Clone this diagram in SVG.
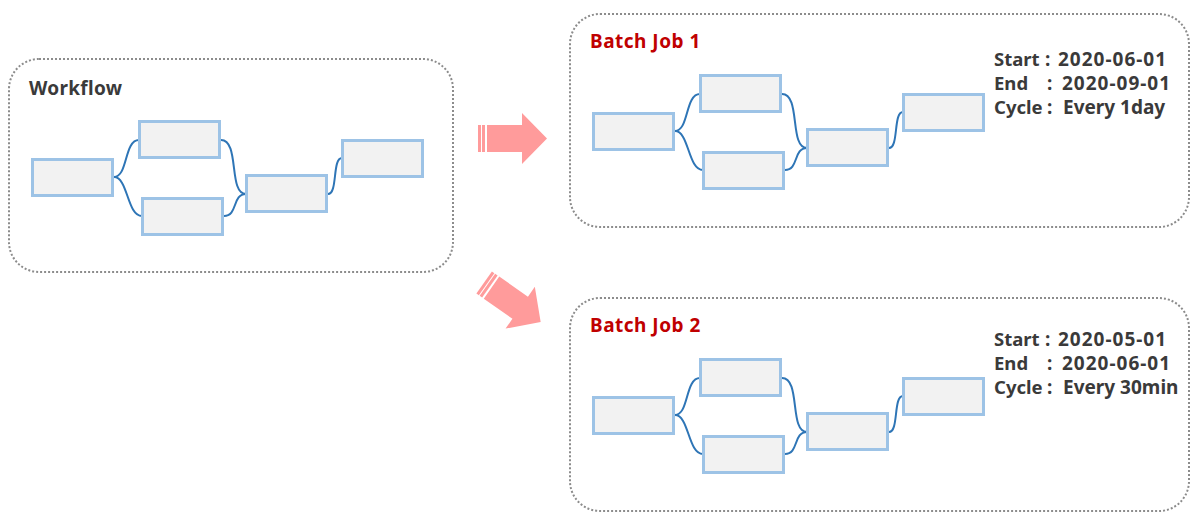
<svg xmlns="http://www.w3.org/2000/svg" width="1197" height="528" viewBox="0 0 1197 528">
<style>
.panel{fill:#ffffff;stroke:#8c8c8c;stroke-width:2;stroke-dasharray:2 2}
.box{fill:#f2f2f2;stroke:#9dc3e6;stroke-width:3}
.conn{fill:none;stroke:#2e75b6;stroke-width:2}
.title{font-family:"Noto Sans","Liberation Sans",sans-serif;font-weight:bold;font-size:19px;fill:#3a3a3a;letter-spacing:0.3px}
.red{font-family:"Noto Sans","Liberation Sans",sans-serif;font-weight:bold;font-size:19px;fill:#c00000;letter-spacing:0.5px}
.info{font-family:"Noto Sans","Liberation Sans",sans-serif;font-weight:bold;font-size:19px;fill:#3a3a3a}
.lbl{font-size:18.5px}
.date{letter-spacing:1px}
.arrow{fill:#ff9b9b}
</style>
<defs>
<g id="arrowShape">
<path class="arrow" d="M-25,-13.5 H10 V-25.5 L35,0 L10,25.5 V13.5 H-25 Z"/>
<rect class="arrow" x="-34" y="-13.5" width="3" height="27"/>
<rect class="arrow" x="-30" y="-13.5" width="3" height="27"/>
</g>
</defs>

<!-- Workflow panel -->
<g id="workflow">
<rect class="panel" x="9" y="59" width="444" height="213" rx="30" ry="30"/>
<text class="title" x="29" y="95">Workflow</text>
<g id="wf-connectors">
<path class="conn" d="M114,177 C128,177 124,140 139,140"/>
<path class="conn" d="M114,177 C128,177 127,216 142,216"/>
<path class="conn" d="M221,140 C240,140 228,194 246,194"/>
<path class="conn" d="M224,216 C238,216 232,194 246,194"/>
<path class="conn" d="M328,194 C338,194 332,158 342,158"/>
</g>
<g id="wf-a"><rect class="box" x="32.5" y="159.5" width="80" height="36"/></g>
<g id="wf-b"><rect class="box" x="139.5" y="121.5" width="80" height="36"/></g>
<g id="wf-c"><rect class="box" x="142.5" y="198.5" width="80" height="36"/></g>
<g id="wf-d"><rect class="box" x="246.5" y="175.5" width="80" height="36"/></g>
<g id="wf-e"><rect class="box" x="342.5" y="140.5" width="80" height="36"/></g>
</g>

<!-- Arrows -->
<g id="arrow-1" transform="translate(512,138.5)"><use href="#arrowShape"/></g>
<g id="arrow-2" transform="translate(512,302) rotate(35)"><use href="#arrowShape"/></g>

<!-- Batch Job 1 -->
<g id="batch1">
<rect class="panel" x="570" y="14" width="619" height="213" rx="30" ry="30"/>
<text class="red" x="590" y="48">Batch Job 1</text>
<text class="info" y="66"><tspan class="lbl" x="994">Start</tspan><tspan x="1045">:</tspan><tspan class="date" x="1058">2020-06-01</tspan></text>
<text class="info" y="90"><tspan class="lbl" x="994">End</tspan><tspan x="1047">:</tspan><tspan class="date" x="1062">2020-09-01</tspan></text>
<text class="info" y="114"><tspan class="lbl" x="994">Cycle</tspan><tspan x="1047">:</tspan><tspan x="1063">Every 1day</tspan></text>
<g transform="translate(561,-46)">
<g id="b1-connectors">
<path class="conn" d="M114,177 C128,177 124,140 139,140"/>
<path class="conn" d="M114,177 C128,177 127,216 142,216"/>
<path class="conn" d="M221,140 C240,140 228,194 246,194"/>
<path class="conn" d="M224,216 C238,216 232,194 246,194"/>
<path class="conn" d="M328,194 C338,194 332,158 342,158"/>
</g>
<g id="b1-a"><rect class="box" x="32.5" y="159.5" width="80" height="36"/></g>
<g id="b1-b"><rect class="box" x="139.5" y="121.5" width="80" height="36"/></g>
<g id="b1-c"><rect class="box" x="142.5" y="198.5" width="80" height="36"/></g>
<g id="b1-d"><rect class="box" x="246.5" y="175.5" width="80" height="36"/></g>
<g id="b1-e"><rect class="box" x="342.5" y="140.5" width="80" height="36"/></g>
</g>
</g>

<!-- Batch Job 2 -->
<g id="batch2">
<rect class="panel" x="570" y="298" width="619" height="213" rx="30" ry="30"/>
<text class="red" x="590" y="332">Batch Job 2</text>
<text class="info" y="346"><tspan class="lbl" x="994">Start</tspan><tspan x="1045">:</tspan><tspan class="date" x="1058">2020-05-01</tspan></text>
<text class="info" y="370"><tspan class="lbl" x="994">End</tspan><tspan x="1047">:</tspan><tspan class="date" x="1062">2020-06-01</tspan></text>
<text class="info" y="394"><tspan class="lbl" x="994">Cycle</tspan><tspan x="1047">:</tspan><tspan x="1063">Every 30min</tspan></text>
<g transform="translate(561,238)">
<g id="b2-connectors">
<path class="conn" d="M114,177 C128,177 124,140 139,140"/>
<path class="conn" d="M114,177 C128,177 127,216 142,216"/>
<path class="conn" d="M221,140 C240,140 228,194 246,194"/>
<path class="conn" d="M224,216 C238,216 232,194 246,194"/>
<path class="conn" d="M328,194 C338,194 332,158 342,158"/>
</g>
<g id="b2-a"><rect class="box" x="32.5" y="159.5" width="80" height="36"/></g>
<g id="b2-b"><rect class="box" x="139.5" y="121.5" width="80" height="36"/></g>
<g id="b2-c"><rect class="box" x="142.5" y="198.5" width="80" height="36"/></g>
<g id="b2-d"><rect class="box" x="246.5" y="175.5" width="80" height="36"/></g>
<g id="b2-e"><rect class="box" x="342.5" y="140.5" width="80" height="36"/></g>
</g>
</g>
</svg>
